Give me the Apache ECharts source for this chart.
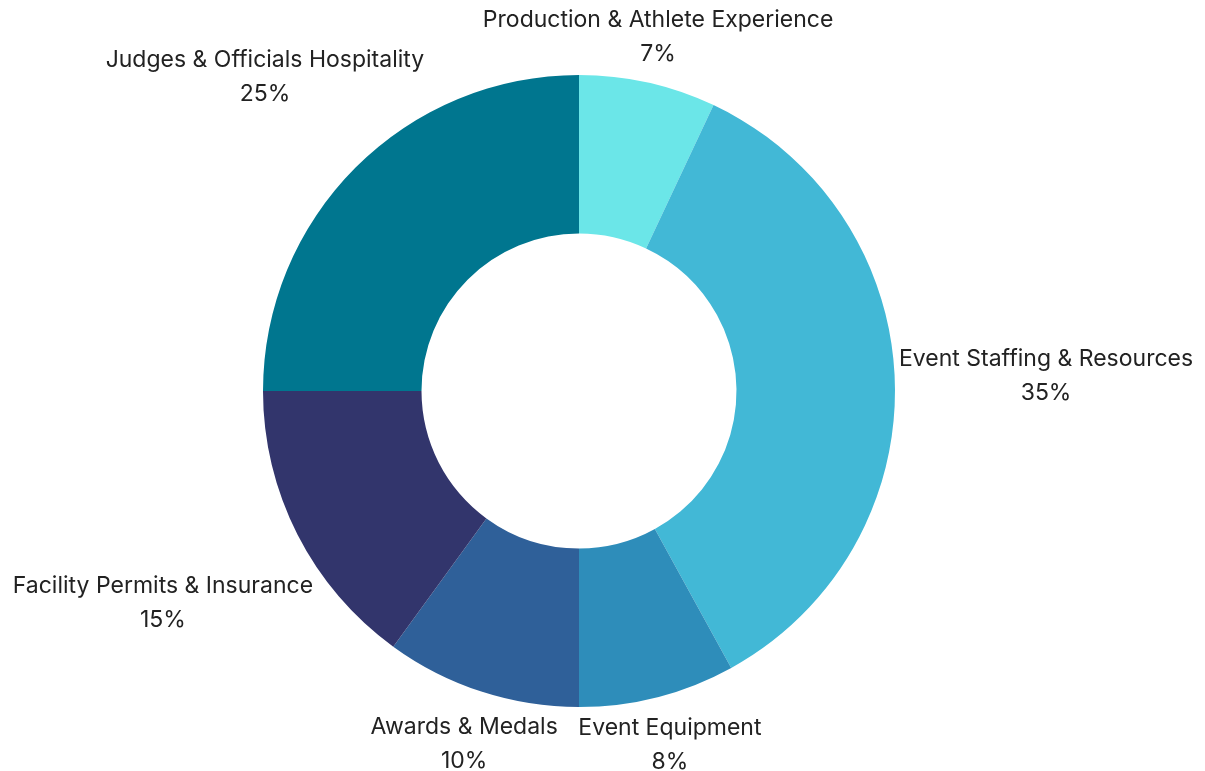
<!DOCTYPE html>
<html>
<head>
<meta charset="utf-8">
<script src="https://cdn.jsdelivr.net/npm/echarts@6/dist/echarts.min.js"></script>
<style>
  html, body { margin: 0; padding: 0; background: #fff; }
  #chart { width: 1205px; height: 771px; }
</style>
</head>
<body>
<div id="chart"></div>
<script>
const categories = [
  "Production & Athlete Experience",
  "Event Staffing & Resources",
  "Event Equipment",
  "Awards & Medals",
  "Facility Permits & Insurance",
  "Judges & Officials Hospitality"
];
const shares = [7, 35, 8, 10, 15, 25];
const colors = ["#6be6e8", "#42b8d6", "#2e8dba", "#2f6099", "#32356c", "#00768f"];

const cx = 579, cy = 391, outerR = 316, innerR = 157.5;
const clearR = 320; // labels sit just outside the ring

const total = shares.reduce((a, b) => a + b, 0);
const midAngles = [];
let acc = 0;
shares.forEach(v => {
  midAngles.push(((acc + v / 2) / total) * Math.PI * 2);
  acc += v;
});

// distance from the pie centre to a rect centred at (x, y)
function rectDist(x, y, a, b) {
  const dx = Math.max(Math.abs(x) - a, 0);
  const dy = Math.max(Math.abs(y) - b, 0);
  return Math.sqrt(dx * dx + dy * dy);
}

const chart = echarts.init(document.getElementById("chart"));

chart.setOption({
  animation: false,
  series: [
    {
      type: "pie",
      center: [cx, cy],
      radius: [innerR, outerR],
      startAngle: 90,
      clockwise: true,
      avoidLabelOverlap: false,
      data: categories.map((name, i) => ({
        name: name,
        value: shares[i],
        itemStyle: { color: colors[i] }
      })),
      label: {
        show: true,
        position: "outside",
        formatter: "{b}\n{c}%",
        fontFamily: "Inter",
        fontSize: 23,
        lineHeight: 34,
        color: "#222",
        align: "center"
      },
      labelLine: { show: false },
      labelLayout: function (params) {
        const th = midAngles[params.dataIndex];
        const ux = Math.sin(th), uy = -Math.cos(th);
        const a = params.labelRect.width / 2;
        const b = params.labelRect.height / 2;
        let lo = 0, hi = 1200;
        for (let k = 0; k < 40; k++) {
          const t = (lo + hi) / 2;
          if (rectDist(ux * t, uy * t, a, b) < clearR) lo = t; else hi = t;
        }
        return {
          x: cx + ux * hi,
          y: cy + uy * hi,
          align: "center",
          verticalAlign: "middle"
        };
      }
    }
  ]
});
</script>
</body>
</html>
